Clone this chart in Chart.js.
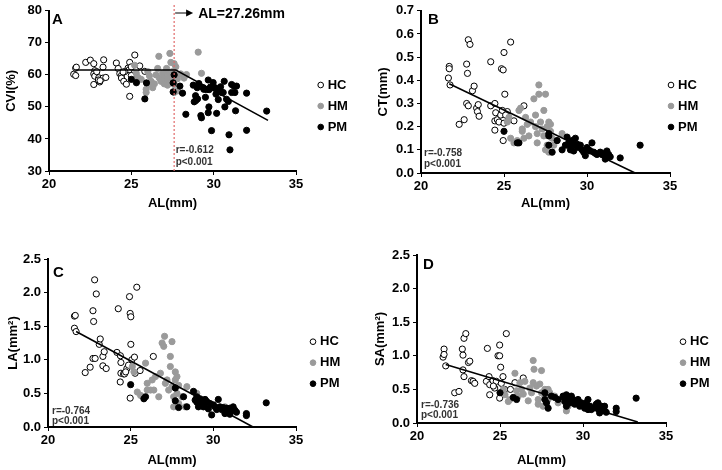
<!DOCTYPE html>
<html><head><meta charset="utf-8">
<script src="https://cdn.jsdelivr.net/npm/chart.js@4.4.0/dist/chart.umd.min.js"></script>
<style>
html,body{margin:0;padding:0;background:#fff;}
body{width:722px;height:470px;position:relative;overflow:hidden;}
canvas{position:absolute;display:block;}
</style></head>
<body>
<canvas id="cA" width="360" height="230" style="left:0;top:0"></canvas>
<canvas id="cB" width="362" height="230" style="left:360px;top:0"></canvas>
<canvas id="cC" width="360" height="240" style="left:0;top:230px"></canvas>
<canvas id="cD" width="362" height="240" style="left:360px;top:230px"></canvas>
<script>
// ---------- data (AL in mm, outcome values) ----------
const groups = ['HC','HM','PM'];
const alMin = 20, alMax = 35, alStep = 5;

// Panel A: CVI (%)
const cviHC = [[21.5,60.2],[21.62,59.8],[21.62,62.1],[21.66,62.4],[22.23,63.9],[22.51,64.6],[22.72,63.5],[22.78,61.3],[22.8,60.4],[22.72,60.3],[22.78,59.6],[23.02,59.1],[23.08,57.8],[22.72,57.0],[23.28,59.0],[23.45,59.2],[23.32,64.7],[23.28,62.4],[23.0,58.4],[24.09,63.7],[24.2,62.0],[24.3,60.4],[24.4,59.8],[24.4,59.0],[24.54,58.0],[24.7,57.1],[24.9,63.9],[24.8,62.1],[24.87,61.6],[25.0,59.8],[24.9,53.3],[25.21,66.2],[25.31,62.0],[25.51,62.8],[25.82,61.1],[24.6,61.0],[24.5,60.9],[25.0,62.5],[22.9,61.0],[23.1,58.2]];
const cviHM = [[25.2,63.0],[25.3,60.5],[25.3,57.5],[25.4,59.2],[25.6,58.6],[25.9,55.5],[25.9,54.5],[26.0,57.0],[26.1,59.7],[26.2,58.0],[26.4,57.2],[26.5,60.0],[26.67,65.8],[26.6,62.0],[26.7,59.0],[26.8,58.0],[26.9,60.5],[27.0,59.0],[27.0,57.2],[27.1,61.0],[27.14,62.0],[27.2,58.5],[27.3,60.0],[27.34,66.7],[27.4,63.9],[27.4,59.5],[27.5,58.0],[27.5,61.0],[27.6,63.5],[27.6,57.0],[27.7,62.5],[27.75,60.0],[27.8,58.8],[28.0,60.3],[28.2,59.0],[28.35,60.1],[29.06,67.1],[29.26,60.5],[27.2,56.8],[26.3,56.0],[26.0,61.0],[27.6,54.5],[27.8,55.0]];
const cviPM = [[25.0,58.6],[25.31,57.6],[25.82,52.5],[25.92,57.5],[27.6,60.0],[27.54,57.5],[27.54,54.7],[27.95,56.5],[28.11,54.3],[28.31,47.7],[28.76,56.8],[28.82,51.6],[28.92,52.0],[29.02,52.5],[29.1,57.3],[29.0,56.0],[29.22,47.3],[29.26,46.6],[29.37,56.0],[29.57,55.4],[29.67,58.4],[29.67,48.2],[29.71,50.0],[29.73,55.4],[29.87,42.6],[29.97,57.6],[30.08,56.0],[30.14,54.0],[30.18,48.0],[30.28,55.4],[30.28,52.3],[30.42,56.3],[30.48,54.5],[30.58,54.5],[30.64,58.0],[30.68,50.0],[30.78,52.4],[30.89,51.7],[30.93,41.3],[30.99,36.6],[31.09,54.5],[31.09,57.0],[31.23,56.5],[31.29,54.5],[31.33,48.8],[31.39,56.5],[32.0,54.3],[32.0,42.7],[33.22,48.7],[29.4,55.5],[29.8,56.2],[28.9,53.5],[29.5,53.0]];
const cviFit = [[21.6,61.5],[27.7,61.5],[33.3,45.8]];
const cviCut = 27.6;
const cviCutLabel = 'AL=27.26mm';
const cviStats = ['r=-0.612','p<0.001'];

// Panel B: CT (mm)
const ctHC = [[21.65,0.41],[21.7,0.46],[21.7,0.45],[21.75,0.38],[22.3,0.21],[22.6,0.23],[22.75,0.47],[22.8,0.43],[22.85,0.575],[22.95,0.555],[22.75,0.30],[22.85,0.29],[23.1,0.355],[23.2,0.375],[23.35,0.28],[23.4,0.265],[23.45,0.295],[23.5,0.245],[24.2,0.48],[24.2,0.29],[24.45,0.30],[24.5,0.26],[24.45,0.225],[24.45,0.185],[24.6,0.23],[24.7,0.22],[24.8,0.25],[24.85,0.45],[24.95,0.445],[25.0,0.52],[25.0,0.215],[24.95,0.14],[25.05,0.34],[25.2,0.265],[25.3,0.23],[25.4,0.565],[25.6,0.225],[26.2,0.29],[24.9,0.27],[25.1,0.25]];
const ctHM = [[25.2,0.22],[25.3,0.24],[25.4,0.15],[25.6,0.13],[25.8,0.14],[26.0,0.28],[26.1,0.19],[26.1,0.18],[26.2,0.15],[26.3,0.24],[26.5,0.16],[26.6,0.22],[26.8,0.32],[26.9,0.25],[27.0,0.13],[27.1,0.38],[27.1,0.34],[27.2,0.22],[27.4,0.27],[27.4,0.16],[27.5,0.34],[27.5,0.10],[27.6,0.20],[27.6,0.12],[27.7,0.22],[27.8,0.18],[27.8,0.21],[27.9,0.15],[28.0,0.12],[28.5,0.17],[28.2,0.14],[26.9,0.20],[27.3,0.19],[27.7,0.09],[27.0,0.17],[26.4,0.21],[25.9,0.27],[28.8,0.12],[29.1,0.11]];
const ctPM = [[25.0,0.18],[25.8,0.13],[25.9,0.13],[27.7,0.17],[27.7,0.16],[27.7,0.12],[27.9,0.09],[28.2,0.14],[28.5,0.10],[28.8,0.155],[28.9,0.13],[29.0,0.12],[29.0,0.10],[29.1,0.14],[29.2,0.095],[29.3,0.15],[29.3,0.12],[29.4,0.125],[29.6,0.12],[29.7,0.10],[29.8,0.09],[29.9,0.075],[30.0,0.11],[30.1,0.10],[30.2,0.095],[30.3,0.13],[30.4,0.09],[30.6,0.08],[30.8,0.09],[30.9,0.08],[31.0,0.085],[31.1,0.06],[31.2,0.095],[31.3,0.08],[31.4,0.07],[32.0,0.065],[33.2,0.12],[29.5,0.11],[28.7,0.12],[30.5,0.085],[31.2,0.07]];
const ctFit = [[21.7,0.385],[32.9,0.0]];
const ctStats = ['r=-0.758','p<0.001'];

// Panel C: LA (mm²)
const laHC = [[21.6,1.65],[21.65,1.66],[21.6,1.47],[21.7,1.42],[22.25,0.81],[22.55,0.89],[22.72,1.73],[22.82,2.19],[22.92,1.98],[22.76,1.57],[22.72,1.02],[22.85,1.02],[23.1,1.23],[23.16,1.31],[23.32,1.05],[23.32,0.91],[23.52,0.87],[23.4,1.12],[24.17,1.11],[24.25,1.76],[24.38,1.06],[24.41,0.96],[24.41,0.80],[24.37,0.67],[24.57,0.79],[24.63,0.79],[24.77,0.87],[24.87,0.92],[24.93,1.94],[24.97,1.69],[25.01,1.64],[25.01,1.23],[25.07,1.0],[24.97,0.43],[25.23,1.04],[25.37,2.08],[25.27,0.80],[25.57,0.84],[26.37,1.05],[24.7,0.82]];
const laHM = [[25.1,0.9],[25.2,0.82],[25.4,0.52],[25.6,0.47],[25.9,0.95],[26.0,0.65],[26.0,0.55],[26.2,0.55],[26.4,0.55],[26.5,0.75],[26.7,0.45],[26.9,1.25],[27.0,1.2],[27.05,1.35],[27.2,0.7],[27.4,1.05],[27.4,0.9],[27.5,1.27],[27.5,0.6],[27.6,0.45],[27.7,0.82],[27.7,0.7],[27.8,0.75],[27.8,0.5],[27.9,0.35],[28.1,0.45],[28.4,0.6],[27.6,0.3],[27.3,0.55],[26.8,0.8],[26.3,0.7],[28.3,0.3],[29.0,0.5],[30.7,0.3],[30.8,0.25],[27.1,0.65],[27.9,0.62]];
const laPM = [[25.0,0.63],[25.8,0.42],[25.9,0.45],[27.7,0.58],[27.7,0.39],[27.9,0.29],[28.2,0.45],[28.4,0.3],[28.8,0.53],[29.0,0.45],[29.0,0.37],[29.1,0.3],[29.2,0.42],[29.3,0.35],[29.4,0.3],[29.5,0.41],[29.6,0.38],[29.7,0.27],[29.8,0.35],[29.9,0.18],[30.0,0.33],[30.1,0.3],[30.2,0.26],[30.3,0.41],[30.4,0.3],[30.5,0.26],[30.6,0.29],[30.8,0.28],[30.9,0.22],[31.0,0.19],[31.1,0.24],[31.2,0.3],[31.3,0.25],[31.4,0.22],[32.0,0.2],[32.0,0.17],[33.2,0.36],[29.5,0.35],[28.9,0.4],[30.7,0.2],[31.0,0.28]];
const laFit = [[21.7,1.42],[32.4,0.0]];
const laStats = ['r=-0.764','p<0.001'];

// Panel D: SA (mm²)
const saHC = [[21.63,1.1],[21.57,0.98],[21.63,1.02],[21.73,0.85],[22.27,0.45],[22.53,0.47],[22.73,1.1],[22.83,1.26],[22.94,1.33],[22.77,1.01],[22.77,0.79],[22.83,0.69],[23.1,0.9],[23.18,0.92],[23.28,0.63],[23.38,0.62],[23.48,0.59],[24.24,1.11],[24.18,0.62],[24.34,0.69],[24.38,0.57],[24.38,0.42],[24.58,0.63],[24.68,0.52],[24.78,0.62],[24.88,1.0],[24.98,1.16],[24.98,1.0],[25.04,0.83],[25.08,0.59],[24.98,0.37],[25.38,1.33],[25.28,0.5],[25.63,0.5],[26.4,0.67],[25.18,0.69],[24.6,0.55],[25.9,0.6]];
const saHM = [[25.2,0.5],[25.3,0.42],[25.5,0.32],[25.6,0.35],[25.9,0.74],[26.0,0.48],[26.1,0.4],[26.2,0.6],[26.4,0.43],[26.5,0.62],[26.7,0.33],[26.8,0.52],[27.0,0.93],[27.05,0.8],[27.2,0.55],[27.3,0.35],[27.4,0.58],[27.5,0.78],[27.5,0.45],[27.6,0.25],[27.7,0.5],[27.7,0.4],[27.8,0.3],[27.9,0.35],[28.0,0.45],[28.3,0.4],[28.5,0.3],[29.0,0.18],[29.1,0.25],[26.9,0.45],[27.3,0.28],[27.9,0.5],[30.5,0.25],[26.3,0.5],[27.0,0.6]];
const saPM = [[25.0,0.45],[25.8,0.38],[26.0,0.35],[27.7,0.45],[27.7,0.35],[27.8,0.3],[27.9,0.22],[28.1,0.4],[28.3,0.38],[28.5,0.35],[28.8,0.4],[28.9,0.32],[29.0,0.42],[29.1,0.38],[29.2,0.3],[29.3,0.4],[29.4,0.35],[29.5,0.28],[29.6,0.3],[29.7,0.35],[29.8,0.25],[29.9,0.3],[30.0,0.28],[30.1,0.22],[30.2,0.3],[30.3,0.35],[30.4,0.25],[30.5,0.2],[30.6,0.22],[30.8,0.28],[30.9,0.3],[31.0,0.15],[31.1,0.25],[31.2,0.2],[31.3,0.18],[31.4,0.16],[32.0,0.22],[32.0,0.17],[33.2,0.37],[29.0,0.25],[30.3,0.2],[30.9,0.21],[31.3,0.25]];
const saFit = [[21.73,0.87],[33.3,0.015]];
const saStats = ['r=-0.736','p<0.001'];

// ---------- rendering ----------
const F = '"Liberation Sans", Arial, Helvetica, sans-serif';
const GRAY = '#9a9a9a';
const LEG_W = 36;
const LEG_PAD = 8, LEG_BW = 1, LEG_FS = 13;
const toXY = a => a.map(p => ({x:p[0], y:p[1]}));

const legendPos = {
  id:'legendPos',
  afterLayout(chart, args, o){
    const lg = chart.legend; if(!lg || o.cx == null) return;
    lg.left = o.cx - LEG_PAD - LEG_BW/2; lg.right = lg.left + 70;
    const h = lg.bottom - lg.top;
    lg.top = o.cy - LEG_PAD - LEG_FS/2; lg.bottom = lg.top + h;
  }
};
const panelText = {
  id:'panelText',
  afterDatasetsDraw(chart, args, o){
    const {ctx, chartArea:a, scales:{x}} = chart;
    ctx.save();
    ctx.textBaseline = 'middle'; ctx.textAlign = 'left';
    ctx.fillStyle = '#000'; ctx.font = 'bold 15px ' + F;
    ctx.fillText(o.letter, a.left + o.lx, a.top + o.ly);
    ctx.font = 'bold 10px ' + F; ctx.fillStyle = '#333';
    const sx = o.statAt != null ? x.getPixelForValue(o.statAt) + 1.5 : a.left + o.sdx;
    ctx.fillText(o.stats[0], sx, a.bottom + o.ry);
    ctx.fillText(o.stats[1], sx, a.bottom + o.py);
    if (o.arrowAt != null){
      const x0 = x.getPixelForValue(o.arrowAt) + 1, yy = 13, tip = x0 + 18;
      ctx.strokeStyle = '#000'; ctx.lineWidth = 1;
      ctx.beginPath(); ctx.moveTo(x0, yy); ctx.lineTo(tip - 5, yy); ctx.stroke();
      ctx.fillStyle = '#000';
      ctx.beginPath(); ctx.moveTo(tip, yy); ctx.lineTo(tip - 7, yy - 3.5); ctx.lineTo(tip - 7, yy + 3.5); ctx.closePath(); ctx.fill();
      ctx.font = 'bold 14px ' + F;
      ctx.fillText(o.arrowText, tip + 5, yy + 1);
    }
    ctx.restore();
  }
};

function makePanel(id, p){
  const ds = [
    {label:groups[0], data:toXY(p.hc), backgroundColor:'#fff', borderColor:'#000', borderWidth:1, pointRadius:3.1, order:3},
    {label:groups[1], data:toXY(p.hm), backgroundColor:GRAY, borderColor:GRAY, borderWidth:1, pointRadius:3.1, order:2},
    {label:groups[2], data:toXY(p.pm), backgroundColor:'#000', borderColor:'#000', borderWidth:1, pointRadius:3.1, order:1},
    {label:'fit', data:toXY(p.fit), showLine:true, borderColor:'#000', borderWidth:1.6, pointRadius:0, order:0}
  ];
  if (p.cut != null) ds.push({label:'cut', data:[{x:p.cut,y:p.ymin},{x:p.cut,y:p.cutTop}], showLine:true, borderColor:'#e06a6a', borderWidth:1.2, borderDash:[2,2], pointRadius:0, order:0, clip:false});
  const tickFont = {family:F, size:13, weight:'bold'};
  const titleFont = {family:F, size:13, weight:'bold'};
  new Chart(document.getElementById(id), {
    type:'scatter',
    data:{datasets:ds},
    plugins:[legendPos, panelText],
    options:{
      responsive:false, animation:false, events:[],
      layout:{autoPadding:false, padding:{left:p.padL, top:p.top, right:p.padR, bottom:p.padB}},
      scales:{
        x:{type:'linear', min:alMin, max:alMax,
           ticks:{stepSize:alStep, color:'#000', font:tickFont, padding:2, maxRotation:0},
           grid:{drawOnChartArea:false, drawTicks:true, tickLength:4, color:'#000', lineWidth:1},
           border:{display:true, color:'#000', width:2},
           title:{display:true, text:'AL(mm)', color:'#000', font:titleFont, padding:{top:0, bottom:p.xtPad}},
           afterFit:s=>{s.height = p.xh;}},
        y:{type:'linear', min:p.ymin, max:p.ymax,
           ticks:{stepSize:p.ystep, color:'#000', font:tickFont, padding:3, callback:v=>v.toFixed(p.dec)},
           grid:{drawOnChartArea:false, drawTicks:true, tickLength:4, color:'#000', lineWidth:1},
           border:{display:true, color:'#000', width:2},
           title:{display:true, text:p.ytitle, color:'#000', font:titleFont, padding:{top:4, bottom:4}},
           afterFit:s=>{s.width = p.yw;}}
      },
      plugins:{
        tooltip:{enabled:false},
        legend:{display:true, position:'right', align:'start', maxWidth:LEG_W,
          labels:{usePointStyle:true, boxWidth:LEG_BW, boxHeight:4, padding:LEG_PAD, color:'#000', font:{family:F, size:LEG_FS, weight:'bold'},
            filter:it=>it.datasetIndex < 3, sort:(a,b)=>a.datasetIndex - b.datasetIndex}},
        legendPos:{cx:p.lcx, cy:p.lcy},
        panelText:{letter:p.letter, lx:p.lx, ly:p.ly, stats:p.stats, statAt:p.statAt, sdx:p.sdx, ry:p.ry, py:p.py,
                   arrowAt:p.cut, arrowText:p.cutLabel}
      }
    }
  });
}

makePanel('cA', {hc:cviHC, hm:cviHM, pm:cviPM, fit:cviFit, cut:cviCut, cutTop:81.9, cutLabel:cviCutLabel,
  ymin:30, ymax:80, ystep:10, dec:0, ytitle:'CVI(%)',
  padL:0, yw:49, top:6, padR:360-LEG_W-296, padB:15.2, xh:43.8, xtPad:4,
  lcx:320.7, lcy:85, letter:'A', lx:3, ly:9, stats:cviStats, statAt:cviCut, ry:-21, py:-8.5});
makePanel('cB', {hc:ctHC, hm:ctHM, pm:ctPM, fit:ctFit,
  ymin:0, ymax:0.7, ystep:0.1, dec:1, ytitle:'CT(mm)',
  padL:11.2, yw:49.8, top:6, padR:362-LEG_W-310, padB:15.2, xh:41.8, xtPad:4,
  lcx:311, lcy:85, letter:'B', lx:7, ly:9, stats:ctStats, sdx:3, ry:-20, py:-9});
makePanel('cC', {hc:laHC, hm:laHM, pm:laPM, fit:laFit,
  ymin:0, ymax:2.5, ystep:0.5, dec:1, ytitle:'LA(mm²)',
  padL:1.2, yw:46.8, top:29, padR:360-LEG_W-296, padB:2.2, xh:40.8, xtPad:0,
  lcx:313, lcy:111.7, letter:'C', lx:5, ly:13.7, stats:laStats, sdx:4, ry:-15.5, py:-6});
makePanel('cD', {hc:saHC, hm:saHM, pm:saPM, fit:saFit,
  ymin:0, ymax:2.5, ystep:0.5, dec:1, ytitle:'SA(mm²)',
  padL:8.2, yw:48.8, top:25, padR:362-LEG_W-306, padB:2.2, xh:44.8, xtPad:0,
  lcx:323, lcy:111.7, letter:'D', lx:6, ly:9.7, stats:saStats, sdx:4, ry:-18, py:-8});
</script>
</body></html>
